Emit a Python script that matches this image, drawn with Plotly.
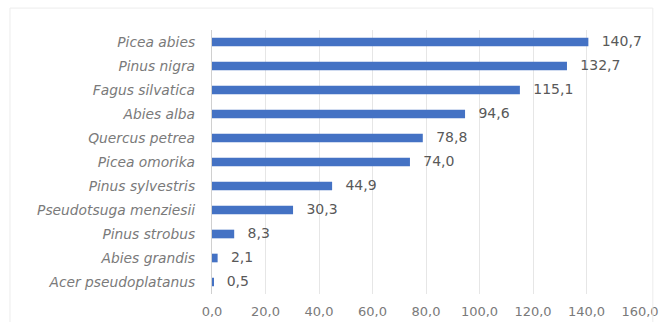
import plotly.graph_objects as go

species = ["Picea abies", "Pinus nigra", "Fagus silvatica", "Abies alba", "Quercus petrea",
           "Picea omorika", "Pinus sylvestris", "Pseudotsuga menziesii", "Pinus strobus",
           "Abies grandis", "Acer pseudoplatanus"]
values = [140.7, 132.7, 115.1, 94.6, 78.8, 74.0, 44.9, 30.3, 8.3, 2.1, 0.5]
x_ticks = [0, 20, 40, 60, 80, 100, 120, 140, 160]

labels = ["   " + f"{v:.1f}".replace(".", ",") for v in values]

FONT = "DejaVu Sans, sans-serif"

fig = go.Figure()
fig.add_trace(go.Bar(
    x=values, y=species, orientation="h",
    marker=dict(color="#4472C4", line=dict(width=0)),
    width=0.36, hoverinfo="skip",
))
fig.add_trace(go.Scatter(
    x=values, y=species, mode="text", text=labels, textposition="middle right",
    textfont=dict(family=FONT, size=14, color="#595959"),
    cliponaxis=False, hoverinfo="skip",
))

fig.update_layout(
    width=659, height=322,
    margin=dict(l=212, r=19, t=30, b=28),
    paper_bgcolor="white", plot_bgcolor="white",
    separators=", ",
    font=dict(family=FONT, size=13, color="#7a7a7a"),
    showlegend=False,
    xaxis=dict(range=[0, 160], tickvals=x_ticks, tickformat=".1f", automargin=False,
               showgrid=True, gridcolor="#e6e6e6", gridwidth=1, zeroline=False,
               showline=False, ticks="", tickfont=dict(size=13), ticklabelstandoff=8),
    yaxis=dict(categoryorder="array", categoryarray=species[::-1], range=[-0.5, 10.5],
               automargin=False,
               showline=True, linecolor="#d0d0d0", linewidth=1, ticks="",
               ticksuffix="   ", tickfont=dict(size=13.8, style="italic"), showgrid=False),
    shapes=[dict(type="rect", xref="paper", yref="paper", x0=-0.472, x1=1.03, y0=-0.2, y1=1.083,
                 line=dict(color="#ececec", width=1))],
)

fig.write_html("out.html")
